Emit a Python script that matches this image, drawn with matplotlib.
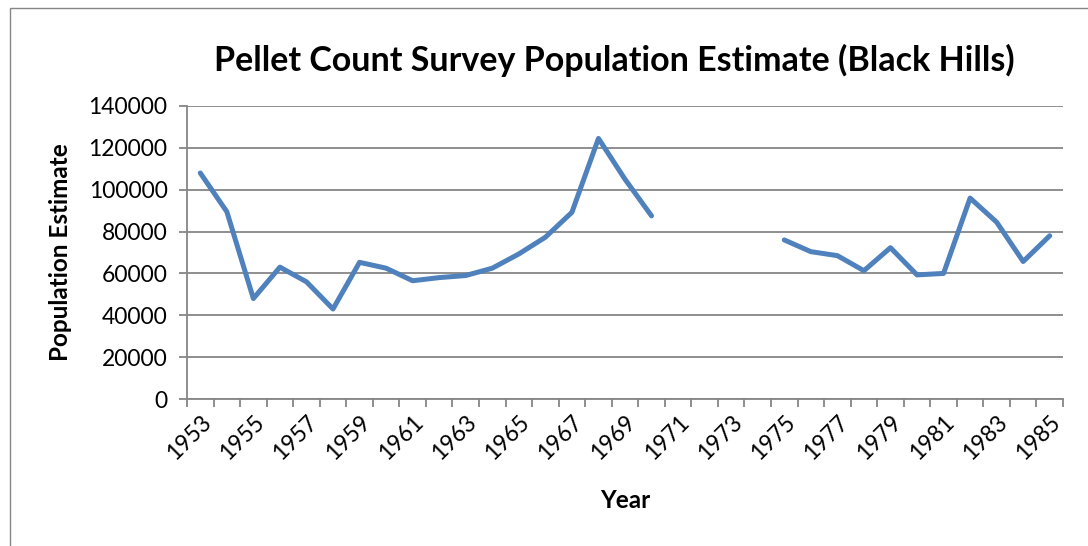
import numpy as np
import matplotlib
matplotlib.use("Agg")
import matplotlib.pyplot as plt
from matplotlib.patches import Rectangle

plt.rcParams['font.family'] = ['Lato', 'DejaVu Sans']

years = list(range(1953, 1986))
population = [108000, 89500, 48000, 63000, 56000, 43000, 65300, 62500, 56500,
              58000, 59000, 62500, 69300, 77300, 89200, 124500, 105000, 87500,
              None, None, None, None,
              76000, 70400, 68500, 61300, 72300, 59300, 60000, 96000, 84500,
              65700, 78000]
yticks = [0, 20000, 40000, 60000, 80000, 100000, 120000, 140000]

vals = np.array([np.nan if v is None else v for v in population], dtype=float)
x = np.arange(len(years))

fig = plt.figure(figsize=(10.88, 5.46), dpi=100)
fig.patches.append(Rectangle((10 / 1088, -0.1), 1.2, 1.1 - 8 / 546,
                             transform=fig.transFigure, fill=False,
                             edgecolor='#868686', linewidth=1.0))
ax = fig.add_axes([187 / 1088, 1 - 399 / 546, 876 / 1088, 293 / 546])

ax.plot(x, vals, color='#4F81BD', linewidth=3.6, solid_capstyle='round',
        solid_joinstyle='round', zorder=3)

ax.set_xlim(-0.5, len(years) - 0.5)
ax.set_ylim(0, 140000)
ax.set_yticks(yticks)
ax.set_yticklabels([str(v) for v in yticks], fontsize=16.5)
ax.yaxis.grid(True, color='#868686', linewidth=1.3)
ax.set_axisbelow(True)

ax.set_xticks(x[::2])
ax.set_xticklabels([str(y) for y in years[::2]], rotation=45, ha='right',
                   va='top', rotation_mode='anchor', fontsize=16.5)
ax.set_xticks(np.arange(-0.5, len(years)), minor=True)
ax.tick_params(axis='x', which='major', length=0, pad=9)
ax.tick_params(axis='x', which='minor', length=6, color='#868686', width=1.3)
ax.tick_params(axis='y', length=6, color='#868686', width=1.3, pad=8)

for side in ['top', 'right']:
    ax.spines[side].set_visible(False)
for side in ['left', 'bottom']:
    ax.spines[side].set_color('#868686')
    ax.spines[side].set_linewidth(1.3)

ax.set_ylabel('Population Estimate', fontsize=17.5, fontweight='bold', labelpad=12)
ax.set_xlabel('Year', fontsize=17.5, fontweight='bold', labelpad=18)
fig.text(614 / 1088, 1 - 60 / 546, 'Pellet Count Survey Population Estimate (Black Hills)',
         ha='center', va='center', fontsize=24.5, fontweight='bold')

fig.savefig('out.png', dpi=100)
